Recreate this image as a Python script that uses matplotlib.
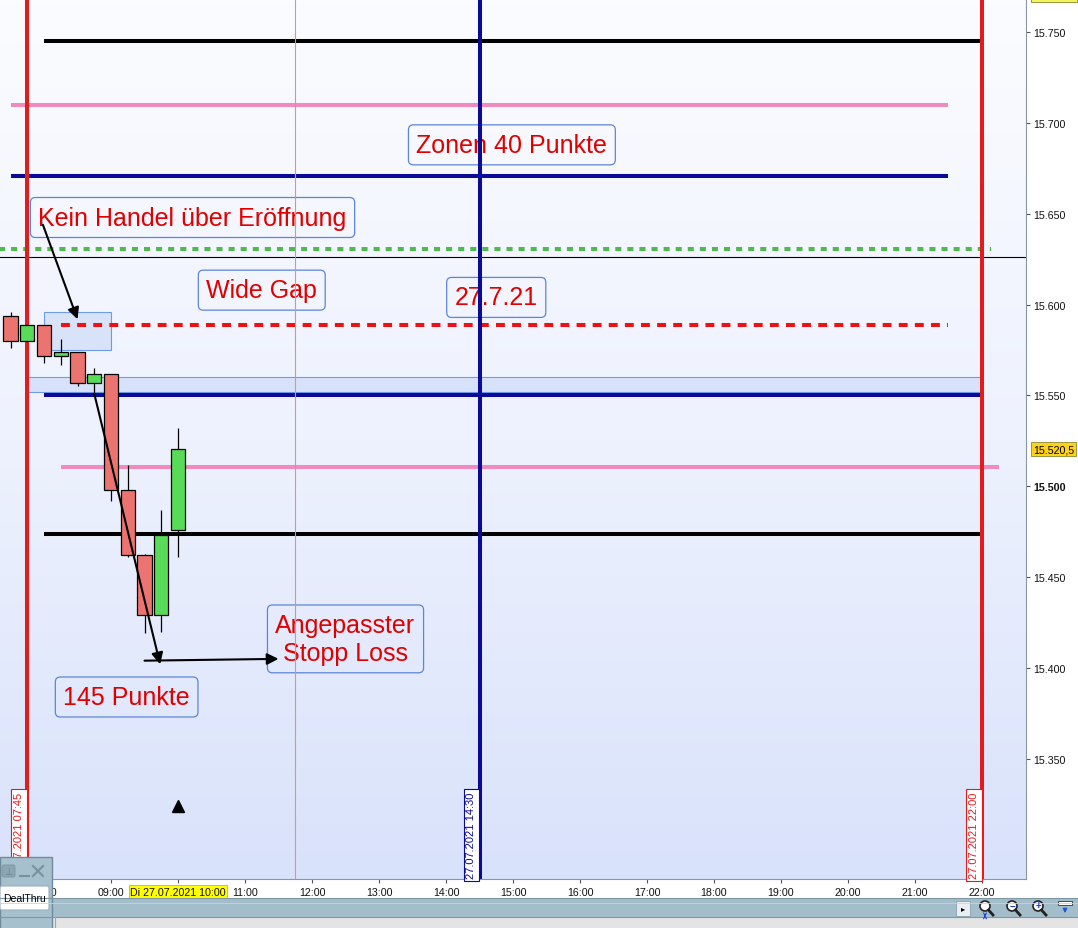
import numpy as np
import matplotlib
matplotlib.use("Agg")
import matplotlib.pyplot as plt
from matplotlib.colors import LinearSegmentedColormap
from matplotlib.patches import Rectangle, Circle, FancyBboxPatch
from matplotlib.ticker import FixedLocator, FuncFormatter
import matplotlib.transforms as mtrans

plt.rcParams['font.family'] = ['Liberation Sans', 'DejaVu Sans']

# ---- data (15 min candles, 27.07.2021) ----
candle_times = ["07:30", "07:45", "08:00", "08:15", "08:30", "08:45",
                "09:00", "09:15", "09:30", "09:45", "10:00"]
opens  = [15594, 15580, 15589, 15572, 15574, 15557, 15562, 15498, 15462, 15429, 15476]
highs  = [15596, 15589, 15589, 15581, 15574, 15565, 15562, 15512, 15463, 15487, 15532]
lows   = [15576, 15580, 15568, 15567, 15555, 15550, 15492, 15461, 15419, 15420, 15461]
closes = [15580, 15589, 15572, 15574, 15557, 15562, 15498, 15462, 15429, 15473, 15520.5]
last_price = 15520.5

# horizontal levels: price, start, end, colour, style
level_prices = [15745, 15710, 15671, 15630.5, 15589, 15550, 15510.5, 15474]
level_start  = ["08:00", "07:30", "07:30", "07:20", "08:15", "08:00", "08:15", "08:00"]
level_end    = ["22:00", "21:30", "21:30", "22:08", "21:30", "22:00", "22:15", "22:00"]
level_colors = ["black", "#f28ac0", "#0a0a96", "#4cbb4c", "#ee1111", "#0a0a96", "#f28ac0", "black"]
level_styles = ["-", "-", "-", "--", "--", "-", "-", "-"]
crosshair_price = 15626

# vertical lines
vline_times  = ["07:45", "14:30", "22:00"]
vline_colors = ["#e31b1b", "#0a0a96", "#e31b1b"]
vline_labels = ["27.07.2021 07:45", "27.07.2021 14:30", "27.07.2021 22:00"]
thin_vline_time = "11:45"

# zones
zone_start = ["08:00", "07:45"]
zone_end   = ["09:00", "22:00"]
zone_low   = [15575, 15552]
zone_high  = [15596, 15560]

# text notes: text, time, price
notes = [("Zonen 40 Punkte", "14:59", 15688),
         ("Kein Handel über Eröffnung", "10:13", 15648),
         ("Wide Gap", "11:15", 15608),
         ("27.7.21", "14:45", 15604),
         ("Angepasster\nStopp Loss", "12:30", 15416),
         ("145 Punkte", "09:14", 15384)]

# arrows: (start time, start price) -> (end time, end price)
arrows = [(("07:59", 15644), ("08:30", 15592)),
          (("08:45", 15551), ("09:44", 15402)),
          (("09:30", 15404), ("11:30", 15405))]
signal_time, signal_price = "10:00", 15324

y_ticks = [15350, 15400, 15450, 15500, 15550, 15600, 15650, 15700, 15750]
x_hours = list(range(8, 23))


def hrs(s):
    h, m = s.split(":")
    return int(h) + int(m) / 60.0


W, H = 1078, 929
fig = plt.figure(figsize=(W / 100, H / 100), dpi=100)
fig.patch.set_facecolor("white")

ax = fig.add_axes([0, 49 / H, 1026 / W, 880 / H])
xmin, xmax = 7.343, 22.657
ymin, ymax = 15283.8, 15768.3

# background gradient
cmap = LinearSegmentedColormap.from_list("bg", ["#d9e2fb", "#eef2fe", "#fbfcff"])
grad = np.linspace(0, 1, 256).reshape(-1, 1)
ax.imshow(grad, cmap=cmap, origin="lower", aspect="auto",
          extent=[xmin, xmax, ymin, ymax], zorder=0)

# zones
for s, e, lo, hi in zip(zone_start, zone_end, zone_low, zone_high):
    ax.add_patch(Rectangle((hrs(s), lo), hrs(e) - hrs(s), hi - lo,
                           facecolor="#c8d8f8", alpha=0.6, edgecolor="none", zorder=1))
    ax.add_patch(Rectangle((hrs(s), lo), hrs(e) - hrs(s), hi - lo,
                           facecolor="none", edgecolor="#6d9be8", lw=0.8, zorder=1.1))

# notes
for txt, t, p in notes:
    ax.text(hrs(t), p, txt, ha="center", va="center", fontsize=18, color="#e00000",
            linespacing=1.2, zorder=1.5,
            bbox=dict(boxstyle="round,pad=0.32,rounding_size=0.2", facecolor="none",
                      edgecolor="#5b86d6", lw=0.9))

# horizontal lines
for p, s, e, c, ls in zip(level_prices, level_start, level_end, level_colors, level_styles):
    line, = ax.plot([hrs(s), hrs(e)], [p, p], color=c, lw=2.9, ls=ls,
                    solid_capstyle="butt", zorder=2)
    if ls == "--":
        line.set_dashes((2.2, 1.8) if c == "#ee1111" else (1.5, 1.5))
ax.axhline(crosshair_price, color="black", lw=0.8, zorder=2)

# vertical lines
ax.axvline(hrs(thin_vline_time), color="#f08a8a", lw=0.8, zorder=2)
for t, c, lab in zip(vline_times, vline_colors, vline_labels):
    ax.axvline(hrs(t), color=c, lw=2.9, zorder=2.5)
    ax.annotate(lab, xy=(hrs(t), ymin), xytext=(-2.2, 0.5), textcoords="offset points",
                rotation=90, ha="right", va="bottom", fontsize=8, color=c, zorder=2.6,
                bbox=dict(boxstyle="square,pad=0.25", facecolor="white", edgecolor=c, lw=0.8))

# candles
ct = np.array([hrs(t) for t in candle_times])
o = np.array(opens)
c = np.array(closes)
up = c >= o
ax.vlines(ct, lows, highs, color="black", lw=0.9, zorder=3)
ax.bar(ct, c - o, bottom=o, width=0.21,
       color=np.where(up, "#58dc58", "#ec7470"), edgecolor="black", lw=0.9, zorder=3.1)

# arrows
for (s, e) in arrows:
    ax.annotate("", xy=(hrs(e[0]), e[1]), xytext=(hrs(s[0]), s[1]), zorder=4,
                arrowprops=dict(arrowstyle="-|>", color="black", lw=1.5,
                                mutation_scale=17, shrinkA=0, shrinkB=0))
ax.plot(hrs(signal_time), signal_price, marker="^", color="black", ms=8, zorder=4)

ax.set_xlim(xmin, xmax)
ax.set_ylim(ymin, ymax)

# axes styling
for sp in ["left", "top"]:
    ax.spines[sp].set_visible(False)
ax.spines["right"].set_color("#8797a6")
ax.spines["bottom"].set_color("#8797a6")
ax.yaxis.tick_right()
ax.yaxis.set_major_locator(FixedLocator(y_ticks))
ax.yaxis.set_major_formatter(FuncFormatter(lambda v, pos: "{:,.0f}".format(v).replace(",", ".")))
ax.tick_params(axis="y", direction="out", length=3, pad=2, labelsize=7.7,
               color="#555555", labelcolor="#111111")
ax.xaxis.set_major_locator(FixedLocator(x_hours))
ax.set_xticklabels(["Di 27.07.2021 10:00" if h == 10 else "%02d:00" % h for h in x_hours])
ax.tick_params(axis="x", direction="out", length=3, pad=2.5, labelsize=7.7,
               color="#555555", labelcolor="#111111")
for lab in ax.get_yticklabels():
    if lab.get_text() == "15.500":
        lab.set_fontweight("bold")
for lab in ax.get_xticklabels():
    if lab.get_text().startswith("Di"):
        lab.set_bbox(dict(boxstyle="square,pad=0.15", facecolor="#ffff00",
                          edgecolor="#b0b000", lw=0.5))

# current price tag
ax.text(1.007, last_price, "15.520,5",
        transform=mtrans.blended_transform_factory(ax.transAxes, ax.transData),
        ha="left", va="center", fontsize=7.7, clip_on=False,
        bbox=dict(boxstyle="square,pad=0.2", facecolor="#ffd21a", edgecolor="#8a8a30", lw=0.6))

# ---- window chrome (pixel coordinates) ----
ui = fig.add_axes([0, 0, 1, 1], zorder=5)
ui.set_xlim(0, W)
ui.set_ylim(H, 0)
ui.axis("off")
ui.patch.set_alpha(0)

ui.add_patch(Rectangle((1031, -2), 46, 5, facecolor="#f2f25a", edgecolor="#8a8a30", lw=0.6))
ui.add_patch(Rectangle((0, 899), W, 19, facecolor="#a3bdcb", edgecolor="none"))
ui.plot([0, W], [899, 899], color="#7f98a6", lw=0.8)
ui.plot([0, W], [904, 904], color="#c5d6df", lw=0.6)
ui.add_patch(Rectangle((0, 918), W, 11, facecolor="#e4e4e4", edgecolor="none"))
ui.plot([0, W], [918, 918], color="#7f98a6", lw=0.8)
ui.plot([55, 55], [918, 929], color="#9aa", lw=0.8)

# toolbar buttons
ui.add_patch(Rectangle((956, 902), 14, 15, facecolor="#e8eef2", edgecolor="#8aa0ae", lw=0.6))
ui.text(963, 910, "▸", ha="center", va="center", fontsize=6, color="black")
for cx, sym in [(985, ""), (1012, "−"), (1038, "+")]:
    ui.add_patch(Circle((cx, 907), 5, facecolor="white", edgecolor="#222222", lw=1.2))
    ui.plot([cx + 3.5, cx + 8], [911, 916], color="#222222", lw=2)
    if sym:
        ui.text(cx, 906.5, sym, ha="center", va="center", fontsize=7, color="#1a3cc8",
                fontweight="bold")
ui.annotate("", xy=(985, 918), xytext=(985, 913),
            arrowprops=dict(arrowstyle="<->", color="#1a3cc8", lw=0.8, mutation_scale=5))
ui.add_patch(Rectangle((1058, 902), 14, 4, facecolor="white", edgecolor="#333", lw=0.6))
ui.annotate("", xy=(1065, 917), xytext=(1065, 908),
            arrowprops=dict(arrowstyle="-|>", color="#1a5ad8", lw=1, mutation_scale=6))

# DealThru widget
ui.add_patch(Rectangle((0, 858), 52, 72, facecolor="#a7c0cd", edgecolor="#6f8a99", lw=1))
ui.add_patch(FancyBboxPatch((2, 866), 13, 12, boxstyle="round,pad=0,rounding_size=2",
                            facecolor="#8da6b3", edgecolor="#7a939f", lw=0.6))
ui.text(8.5, 872, "⊥", ha="center", va="center", fontsize=7, color="#6f8794")
ui.plot([20, 29], [877, 877], color="#7a929f", lw=1.5)
ui.plot([33, 43], [867, 877], color="#7a929f", lw=1.5)
ui.plot([33, 43], [877, 867], color="#7a929f", lw=1.5)
ui.add_patch(FancyBboxPatch((0, 887), 49, 24, boxstyle="round,pad=0,rounding_size=2",
                            facecolor="white", edgecolor="#9ab0bc", lw=0.8))
ui.text(25, 899.5, "DealThru", ha="center", va="center", fontsize=7.5, color="black")

fig.savefig("out.png", dpi=100)
